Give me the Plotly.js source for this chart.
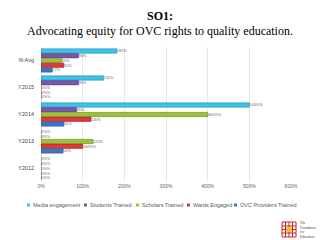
<!DOCTYPE html>
<html><head><meta charset="utf-8">
<script src="https://cdn.plot.ly/plotly-3.0.1.min.js"></script>
<style>html,body{margin:0;padding:0;background:#fff}#c{width:320px;height:240px}</style>
</head><body><div id="c"></div>
<script>
var categories = ['% Avg', 'Y2015', 'Y2014', 'Y2013', 'Y2012'];
var seriesNames = ['Media engagement', 'Students Trained', 'Scholars Trained', 'Wards Engaged', 'OVC Providers Trained'];
var media    = [182, 150, 500, 0, 0];
var students = [90, 90, 85, 0, 0];
var scholars = [50, 0, 400, 125, 0];
var wards    = [55, 0, 120, 100, 0];
var ovc      = [27, 0, 55, 53, 0];
var xTicks = [0, 100, 200, 300, 400, 500, 600];
var xTickLabels = ['0%', '100%', '200%', '300%', '400%', '500%', '600%'];
var titleLines = ['<b>SO1:</b>', 'Advocating equity for OVC rights to quality education.'];

var seriesValues = [media, students, scholars, wards, ovc];
var colors = ['#3fc3e6', '#7a58a8', '#9cc23a', '#d93a3a', '#3b78c8'];
var lines = ['#1f8fb3', '#563b80', '#6e8e22', '#a82424', '#23559a'];

var traces = seriesNames.map(function(n, i){
  return {
    type: 'bar', orientation: 'h', name: n,
    y: categories, x: seriesValues[i],
    marker: {color: colors[i], line: {color: lines[i], width: 0.6}},
    texttemplate: '%{x}%', textposition: 'outside', cliponaxis: false,
    textfont: {family: 'Liberation Sans', size: 5.5, color: '#666'},
    hoverinfo: 'none', showlegend: false
  };
});

var L = 41, W = 250, T = 47, H = 135;
function px(x){ return (x - L) / W; }
function py(y){ return (T + H - y) / H; }
var annotations = [], shapes = [];

// title
annotations.push({xref:'paper', yref:'paper', x:px(160), y:py(16), xanchor:'center', yanchor:'middle', text:titleLines[0], showarrow:false, font:{family:'Liberation Serif', size:12, color:'#000'}});
annotations.push({xref:'paper', yref:'paper', x:px(160), y:py(31), xanchor:'center', yanchor:'middle', text:titleLines[1], showarrow:false, font:{family:'Liberation Serif', size:12, color:'#000'}});

// legend drawn as annotations + shapes
var legX = [27, 84, 136, 187, 234];
seriesNames.forEach(function(n, i){
  shapes.push({type:'rect', xref:'paper', yref:'paper', x0:px(legX[i]), x1:px(legX[i]+3), y0:py(206.5), y1:py(203.5), fillcolor:colors[i], line:{width:0}});
  annotations.push({xref:'paper', yref:'paper', x:px(legX[i]+4), y:py(205), xanchor:'left', yanchor:'middle', text:n, showarrow:false, font:{family:'Liberation Sans', size:5.5, color:'#595959'}});
});

// logo
var lx = 282, ly = 222;
shapes.push({type:'rect', xref:'paper', yref:'paper', x0:px(lx), x1:px(lx+14), y0:py(ly+15), y1:py(ly), fillcolor:'rgba(0,0,0,0)', line:{color:'#c8202a', width:1}});
[3.5, 7, 10.5].forEach(function(d){
  shapes.push({type:'line', xref:'paper', yref:'paper', x0:px(lx+d), x1:px(lx+d), y0:py(ly+15), y1:py(ly), line:{color:'#c8202a', width:1}});
  shapes.push({type:'line', xref:'paper', yref:'paper', x0:px(lx), x1:px(lx+14), y0:py(ly+d+0.5), y1:py(ly+d+0.5), line:{color:'#c8202a', width:1}});
});
shapes.push({type:'rect', xref:'paper', yref:'paper', x0:px(lx+4.5), x1:px(lx+9.5), y0:py(ly+10), y1:py(ly+5), fillcolor:'#f2c21b', line:{width:0}});
annotations.push({xref:'paper', yref:'paper', x:px(lx+16), y:py(ly+7.5), xanchor:'left', yanchor:'middle', text:'The<br>Foundation<br>for<br>Education', align:'left', showarrow:false, font:{family:'Liberation Serif', size:3.5, color:'#444'}});

var layout = {
  width: 320, height: 240,
  margin: {l: L, r: 320 - L - W, t: T, b: 240 - T - H, pad: 0},
  paper_bgcolor: '#fff', plot_bgcolor: '#fff',
  barmode: 'group', bargap: 0.12, bargroupgap: 0.1,
  xaxis: {range: [0, 600], tickvals: xTicks, ticktext: xTickLabels, showgrid: true, gridcolor: '#d9d9d9', gridwidth: 0.6, zeroline: true, zerolinecolor: '#d9d9d9', zerolinewidth: 0.6, tickfont: {family: 'Liberation Sans', size: 5, color: '#666'}, ticks: '', fixedrange: true},
  yaxis: {autorange: 'reversed', tickfont: {family: 'Liberation Sans', size: 5.5, color: '#404040'}, ticks: '', ticklabelstandoff: 6, showgrid: false, fixedrange: true},
  showlegend: false,
  annotations: annotations, shapes: shapes
};
Plotly.newPlot('c', traces, layout, {displayModeBar: false, staticPlot: true});
</script></body></html>
